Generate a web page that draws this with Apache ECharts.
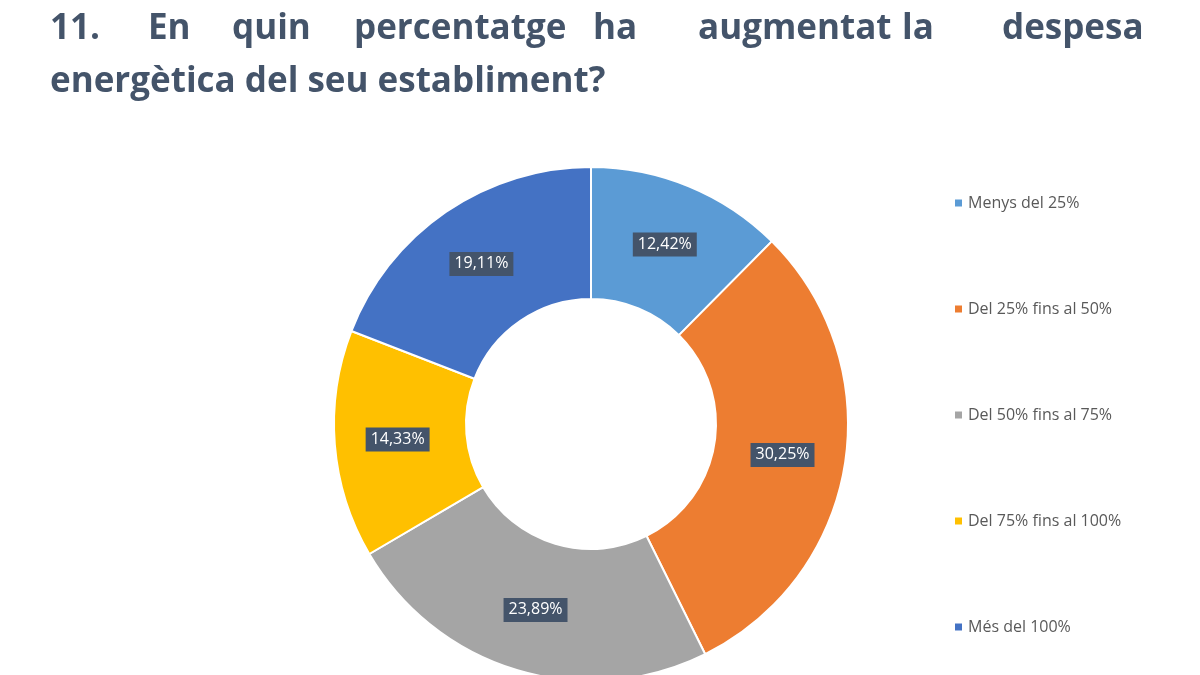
<!DOCTYPE html>
<html><head><meta charset="utf-8">
<script src="https://cdn.jsdelivr.net/npm/echarts@6/dist/echarts.min.js"></script>
<style>html,body{margin:0;background:#fff}#c{width:1200px;height:675px}</style>
</head><body><div id="c"></div>
<script>
var categories = ['Menys del 25%', 'Del 25% fins al 50%', 'Del 50% fins al 75%', 'Del 75% fins al 100%', 'Més del 100%'];
var values = [12.42, 30.25, 23.89, 14.33, 19.11];
var colors = ['#5b9bd5', '#ed7d31', '#a5a5a5', '#ffc000', '#4472c4'];
var line1Words = ['11.', 'En', 'quin', 'percentatge', 'ha', 'augmentat', 'la', 'despesa'];
var line1X = [50, 148, 232, 354, 593, 698, 902, 1002];

var myChart = echarts.init(document.getElementById('c'));
var titleStyle = { fontFamily: 'Open Sans', fontWeight: 'bold', fontSize: 35, fill: '#44546a' };
var graphics = line1Words.map(function (w, i) {
    return { type: 'text', left: line1X[i], top: 12, style: Object.assign({ text: w }, titleStyle) };
});
graphics.push({ type: 'text', left: 50, top: 65, style: Object.assign({ text: 'energètica del seu establiment?' }, titleStyle) });

var option = {
    color: colors,
    graphic: graphics,
    legend: {
        orient: 'vertical',
        left: 948,
        top: 190,
        itemGap: 90,
        itemWidth: 9,
        itemHeight: 9,
        icon: 'rect',
        textStyle: { color: '#595959', fontSize: 16, fontFamily: 'Open Sans' },
        data: categories
    },
    series: [{
        type: 'pie',
        center: [591, 424],
        radius: [125, 257],
        startAngle: 90,
        clockwise: true,
        avoidLabelOverlap: false,
        itemStyle: { borderColor: '#fff', borderWidth: 2 },
        label: {
            position: 'inside',
            formatter: function (p) { return p.value.toFixed(2).replace('.', ',') + '%'; },
            color: '#fff',
            fontSize: 16,
            fontFamily: 'Open Sans',
            backgroundColor: '#44546a',
            padding: [4, 5]
        },
        labelLine: { show: false },
        data: categories.map(function (c, i) { return { name: c, value: values[i] }; })
    }]
};
myChart.setOption(option);
</script></body></html>
